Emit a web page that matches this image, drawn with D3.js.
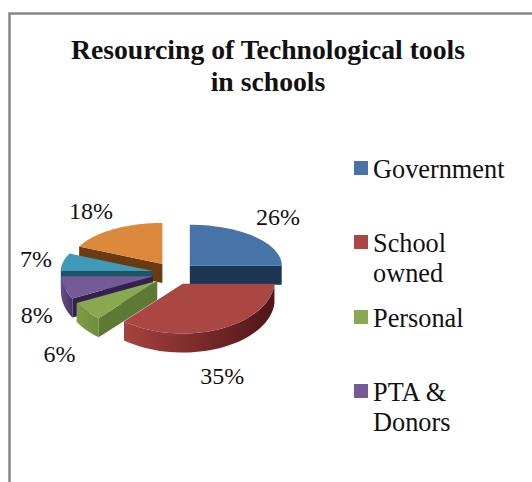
<!DOCTYPE html>
<html>
<head>
<meta charset="utf-8">
<script src="https://cdn.jsdelivr.net/npm/d3@7/dist/d3.min.js"></script>
<style>
html,body{margin:0;padding:0;background:#fff}
text{font-family:"Liberation Serif",serif;fill:#111}
</style>
</head>
<body>
<svg id="chart" width="532" height="482"></svg>
<script>
// Share of technological tools by funding source, in percent
const shareValues = [26, 35, 6, 8, 7, 18];
const legendLabels = [["Government"], ["School", "owned"], ["Personal"], ["PTA &", "Donors"]];
const titleLines = ["Resourcing of Technological tools", "in schools"];

// Slice colours: top face, cut face, outer wall (left, right)
const topColors  = ["#4674a9", "#aa4644", "#8aa84f", "#745a96", "#3f9ab6", "#dd893c"];
const cutColors  = ["#1b3552", "#6b2422", "#5d7a35", "#35214f", "#1d5566", "#6a3a10"];
const wallLeft   = ["#28486d", "#a5423f", "#7f9c47", "#6a4f8c", "#2c7186", "#7d4614"];
const wallRight  = ["#1b3552", "#4f1516", "#6f8b3d", "#4a3268", "#1f5566", "#6a3a10"];

// Label placement relative to each slice's mid-angle point
const labelNudge = [[21, -13], [3, 55], [-27, 51], [-27, 37], [-27, 5], [-22, -10]];

const pieCentre = {x: 174, y: 273.5};
const radiusX = 92, radiusBack = 41, radiusFront = 53, depth = 19;
const explodeX = 21.7, explodeY = 11.3;
// The front half of the rim is flattened so the first slice's lower edge reads as level
const frontFlatten = Math.cos(Math.PI * 2 * shareValues[0] / 100);

const svg = d3.select("#chart");
const defs = svg.append("defs");

// Chart frame: only the top and left edges fall inside the page
svg.append("path")
  .attr("d", "M9.5,482V13.5H532")
  .attr("fill", "none").attr("stroke", "#868686").attr("stroke-width", 2.5);

svg.append("g").selectAll("text").data(titleLines).join("text")
  .attr("x", 268).attr("y", (d, i) => 59 + i * 32)
  .attr("text-anchor", "middle")
  .attr("font-weight", "bold").attr("font-size", 27.7)
  .text(d => d);

const slices = d3.pie().sort(null)(shareValues);

// Elliptical projection of the tilted disc; nearer half appears slightly deeper
const project = (c, a, r = 1) => {
  const cosA = Math.cos(a);
  const dy = cosA > 0 ? radiusBack * cosA : -radiusFront * Math.max(0, -cosA + frontFlatten);
  return [c.x + r * radiusX * Math.sin(a), c.y - r * dy];
};
const line = d3.line();
const arcPoints = (c, a0, a1) => d3.range(0, 41).map(i => project(c, a0 + (a1 - a0) * i / 40));
const drop = pts => pts.map(([x, y]) => [x, y + depth]);

const pieGroup = svg.append("g");
// Back slices first so that nearer slices paint over them
const drawOrder = [5, 4, 3, 2, 0, 1];

drawOrder.forEach(i => {
  const s = slices[i];
  const mid = (s.startAngle + s.endAngle) / 2;
  const c = {x: pieCentre.x + explodeX * Math.sin(mid), y: pieCentre.y - explodeY * Math.cos(mid)};
  const g = pieGroup.append("g");

  const gradId = "wall" + i;
  const grad = defs.append("linearGradient").attr("id", gradId).attr("x1", "1").attr("x2", "0");
  grad.append("stop").attr("offset", "0%").attr("stop-color", wallRight[i]);
  grad.append("stop").attr("offset", "100%").attr("stop-color", wallLeft[i]);

  const face = a => {
    const p = project(c, a);
    const top = [[c.x, c.y], p];
    return line([...top, ...drop(top).reverse()]) + "Z";
  };
  if (Math.sin(s.startAngle) < 0) g.append("path").attr("d", face(s.startAngle)).attr("fill", cutColors[i]);
  if (Math.sin(s.endAngle) > 0.001) g.append("path").attr("d", face(s.endAngle)).attr("fill", cutColors[i]);

  // Outer wall only on the part of the rim that faces the viewer
  const a0 = Math.max(s.startAngle, Math.PI / 2);
  const a1 = Math.min(s.endAngle, Math.PI * 1.5);
  if (a1 > a0) {
    const rim = arcPoints(c, a0, a1);
    g.append("path").attr("d", line([...rim, ...drop(rim).reverse()]) + "Z")
      .attr("fill", `url(#${gradId})`);
  }

  g.append("path")
    .attr("d", line([[c.x, c.y], ...arcPoints(c, s.startAngle, s.endAngle)]) + "Z")
    .attr("fill", topColors[i]);

  const [lx, ly] = project(c, mid);
  svg.append("text")
    .attr("x", lx + labelNudge[i][0]).attr("y", ly + labelNudge[i][1])
    .attr("text-anchor", "middle").attr("font-size", 24)
    .text(s.value + "%");
});

// Legend lists the first four sources
const legendTop = [161, 235, 310, 384];
const legend = svg.append("g").selectAll("g").data(legendLabels).join("g");
legend.append("rect")
  .attr("x", 354).attr("y", (d, i) => legendTop[i])
  .attr("width", 14).attr("height", 14)
  .attr("fill", (d, i) => topColors[i]);
legend.each(function(lines, i) {
  d3.select(this).selectAll("text").data(lines).join("text")
    .attr("x", 373).attr("y", (d, j) => legendTop[i] + 16.5 + j * 30.5)
    .attr("font-size", 26.3)
    .text(d => d);
});
</script>
</body>
</html>
